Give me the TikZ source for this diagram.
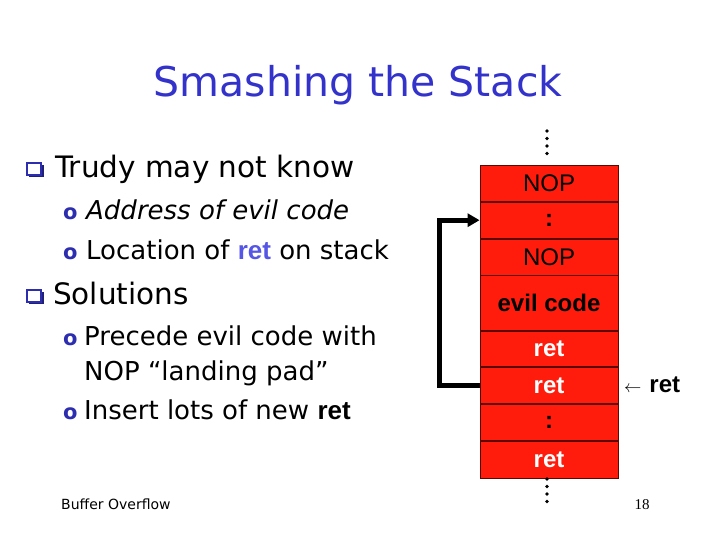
\documentclass[tikz,border=0pt]{standalone}
\usepackage{fontspec}
\setmainfont{DejaVu Sans}
\newfontfamily\arialf{Liberation Sans}
\newfontfamily\tnrf{Liberation Serif}
\usetikzlibrary{arrows.meta}
\definecolor{titleblue}{RGB}{51,51,204}
\definecolor{bulblue}{RGB}{45,45,175}
\definecolor{retblue}{RGB}{85,85,230}
\definecolor{stackred}{RGB}{255,28,12}
\definecolor{cellline}{RGB}{90,10,5}
\begin{document}
\begin{tikzpicture}[x=1pt,y=-1pt,
  cell/.style={draw=cellline, line width=0.8pt, fill=stackred, minimum width=138pt,
    minimum height=#1, inner sep=0pt, anchor=north,
    font=\arialf\fontsize{24}{24}\selectfont},
  lvlone/.style={anchor=base west, inner sep=0pt, font=\fontsize{29.5}{29.5}\selectfont},
  lvltwo/.style={anchor=base west, inner sep=0pt, font=\fontsize{26}{26}\selectfont},
  subbul/.style={anchor=base west, text=bulblue, font=\bfseries\fontsize{21}{21}\selectfont, inner sep=0pt},
  sqbul/.style={draw=bulblue, line width=1.6pt, fill=white},
  retw/.style={text=white, font=\arialf\bfseries\fontsize{24}{24}\selectfont},
  stackdot/.style={fill=black}
]
\useasboundingbox (0,0) rectangle (720,540);
\fill[white] (0,0) rectangle (720,540);

% title
\node[anchor=base, text=titleblue, font=\fontsize{41}{41}\selectfont] (title) at (358,97) {Smashing the Stack};

% bullets
\fill[bulblue!70!black] (29,165) rectangle (44,177);
\draw[sqbul] (27,163) rectangle (41,175);
\node[lvlone] (t1) at (55,178) {Trudy may not know};
\node[subbul] (o1) at (63,219) {o};
\node[lvltwo] (t2) at (86,219) {\itshape Address of evil code};
\node[subbul] (o2) at (63,259) {o};
\node[lvltwo] (t3) at (86,259) {Location of {\arialf\bfseries\textcolor{retblue}{ret}} on stack};
\fill[bulblue!70!black] (29,292) rectangle (44,304);
\draw[sqbul] (27,290) rectangle (41,302);
\node[lvlone] (t4) at (53,304) {Solutions};
\node[subbul] (o3) at (63,345) {o};
\node[lvltwo] (t5) at (84,345) {Precede evil code with};
\node[lvltwo] (t6) at (84,380) {NOP “landing pad”};
\node[subbul] (o4) at (63,419) {o};
\node[lvltwo] (t7) at (84,419) {Insert lots of new {\arialf\bfseries ret}};

% stack
\node[cell=36pt] (c1) at (549,165) {NOP};
\node[cell=36pt] (c2) at (c1.south) {\bfseries :};
\node[cell=36pt] (c3) at (c2.south) {NOP};
\node[cell=55pt, font=\arialf\bfseries\fontsize{24}{24}\selectfont] (c4) at (c3.south) {evil code};
\node[cell=35pt, retw] (c5) at (c4.south) {ret};
\node[cell=36pt, retw] (c6) at (c5.south) {ret};
\node[cell=36pt] (c7) at (c6.south) {\bfseries :};
\node[cell=37pt, retw] (c8) at (c7.south) {ret};

% dots above and below
\foreach \yy in {131,138.5,146,153.5} \fill[stackdot] (547,\yy) circle (1.8);
\foreach \yy in {479,486.5,494,501.5} \fill[stackdot] (547,\yy) circle (1.8);

% return connector
\draw[line width=5pt, line join=miter, -{Triangle[length=12pt,width=13pt]}]
  (c6.west) -- ++(-40,0) |- (c2.west);

% ret pointer
\node[anchor=base west, inner sep=0pt, font=\arialf\bfseries\fontsize{24}{24}\selectfont] (retlbl) at (624,392)
  {{\fontsize{17}{17}\selectfont$\leftarrow$}\hspace{8pt}ret};

% footer
\node[anchor=base west, inner sep=0pt, font=\fontsize{14}{14}\selectfont] (foot) at (61,509) {Buffer Overflow};
\node[anchor=base, inner sep=0pt, font=\tnrf\fontsize{15}{15}\selectfont] (pnum) at (642,509) {18};
\end{tikzpicture}
\end{document}
